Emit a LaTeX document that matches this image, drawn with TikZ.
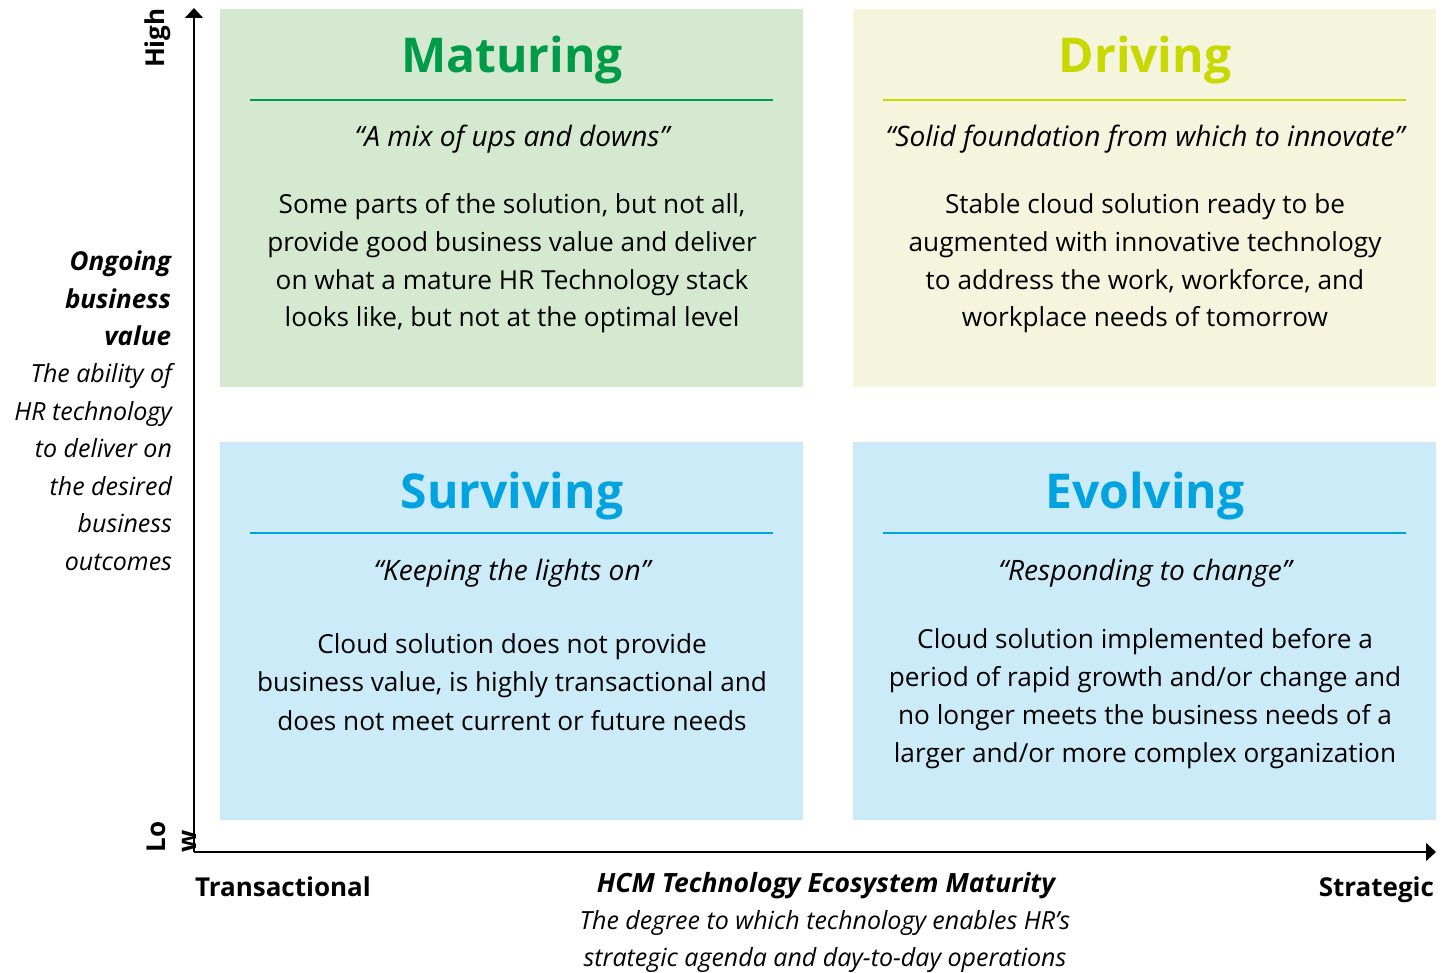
\documentclass[tikz,border=0pt]{standalone}
\usepackage{fontspec}
\setmainfont{Open Sans}
\usetikzlibrary{arrows.meta}

\definecolor{vertMat}{RGB}{0,155,72}
\definecolor{fondMat}{RGB}{213,232,208}
\definecolor{jauneDrv}{RGB}{200,216,0}
\definecolor{fondDrv}{RGB}{244,245,220}
\definecolor{bleuSurv}{RGB}{0,163,224}
\definecolor{fondSurv}{RGB}{204,235,248}

\tikzset{
  texte/.style={inner sep=0pt, outer sep=0pt},
  titre/.style={texte, anchor=base, font=\fontsize{48}{60}\selectfont\bfseries},
  devise/.style={texte, anchor=base, font=\fontsize{28.1}{36}\selectfont\itshape},
  corps/.style={texte, anchor=base, align=center, font=\fontsize{26.2}{37.7}\selectfont},
  etiquette/.style={texte, font=\fontsize{26}{31}\selectfont\bfseries},
  axe/.style={line width=1.5pt, -{Triangle[length=10pt,width=18pt]}},
}

\begin{document}
\begin{tikzpicture}[x=1pt,y=-1pt]
      \useasboundingbox (0,0) rectangle (1454,973);

      %cadrans
      \fill[fondMat] (220,9) rectangle (803,387);
      \fill[fondDrv] (853,9) rectangle (1436,387);
      \fill[fondSurv] (220,442) rectangle (803,820);
      \fill[fondSurv] (853,442) rectangle (1436,820);
      %filets sous les titres
      \draw[vertMat, line width=1.3pt] (250,100) -- (773,100);
      \draw[jauneDrv, line width=1.3pt] (883,100) -- (1406,100);
      \draw[bleuSurv, line width=1.3pt] (250,533) -- (773,533);
      \draw[bleuSurv, line width=1.3pt] (883,533) -- (1406,533);

      %Maturing
      \node (matTitre) [titre, text=vertMat] at (512,73) {Maturing};
      \node (matDevise) [devise] at (512,147) {“A mix of ups and downs”};
      \node (matCorps) [corps] at (512,327) {Some parts of the solution, but not all,\\provide good business value and deliver\\on what a mature HR Technology stack\\looks like, but not at the optimal level};

      %Driving
      \node (drvTitre) [titre, text=jauneDrv] at (1145,73) {Driving};
      \node (drvDevise) [devise] at (1145,147) {“Solid foundation from which to innovate”};
      \node (drvCorps) [corps] at (1145,327) {Stable cloud solution ready to be\\augmented with innovative technology\\to address the work, workforce, and\\workplace needs of tomorrow};

      %Surviving
      \node (survTitre) [titre, text=bleuSurv] at (512,508) {Surviving};
      \node (survDevise) [devise] at (512,580) {“Keeping the lights on”};
      \node (survCorps) [corps, font=\fontsize{26.2}{38.5}\selectfont] at (512,730) {Cloud solution does not provide\\business value, is highly transactional and\\does not meet current or future needs};

      %Evolving
      \node (evoTitre) [titre, text=bleuSurv] at (1145,508) {Evolving};
      \node (evoDevise) [devise] at (1145,580) {“Responding to change”};
      \node (evoCorps) [corps] at (1145,762) {Cloud solution implemented before a\\period of rapid growth and/or change and\\no longer meets the business needs of a\\larger and/or more complex organization};

      %axes
      \coordinate (origine) at (194,852);
      \coordinate (haut) at (194,8);
      \coordinate (droite) at (1436,852);
      \draw[axe] (origine) -- (haut);
      \draw[axe] (origine) -- (droite);

      %axe vertical
      \node (haute) [etiquette, rotate=90, anchor=base west] at (164,68) {High};
      \node (basse) [etiquette, rotate=90, anchor=base west, align=left] at (196,852) {Lo\\w};
      \node (valeur) [texte, anchor=base east, align=right, font=\fontsize{26}{37.5}\selectfont\bfseries\itshape] at (171,346) {Ongoing\\business\hspace*{4pt}\\value};
      \node (capacite) [texte, anchor=base east, align=right, font=\fontsize{25}{37.5}\selectfont\itshape] at (172,570) {The ability of\\HR technology\\to deliver on\\the desired\\business\\outcomes};

      %axe horizontal
      \node (transac) [etiquette, anchor=base west] at (195,896) {Transactional};
      \node (strat) [etiquette, anchor=base east] at (1434,896) {Strategic};
      \node (hcm) [etiquette, anchor=base, font=\fontsize{26.5}{31}\selectfont\bfseries\itshape] at (826,892) {HCM Technology Ecosystem Maturity};
      \node (degre) [texte, anchor=base, align=center, font=\fontsize{25}{37}\selectfont\itshape] at (825,966) {The degree to which technology enables HR’s\\strategic agenda and day-to-day operations};
\end{tikzpicture}
\end{document}
